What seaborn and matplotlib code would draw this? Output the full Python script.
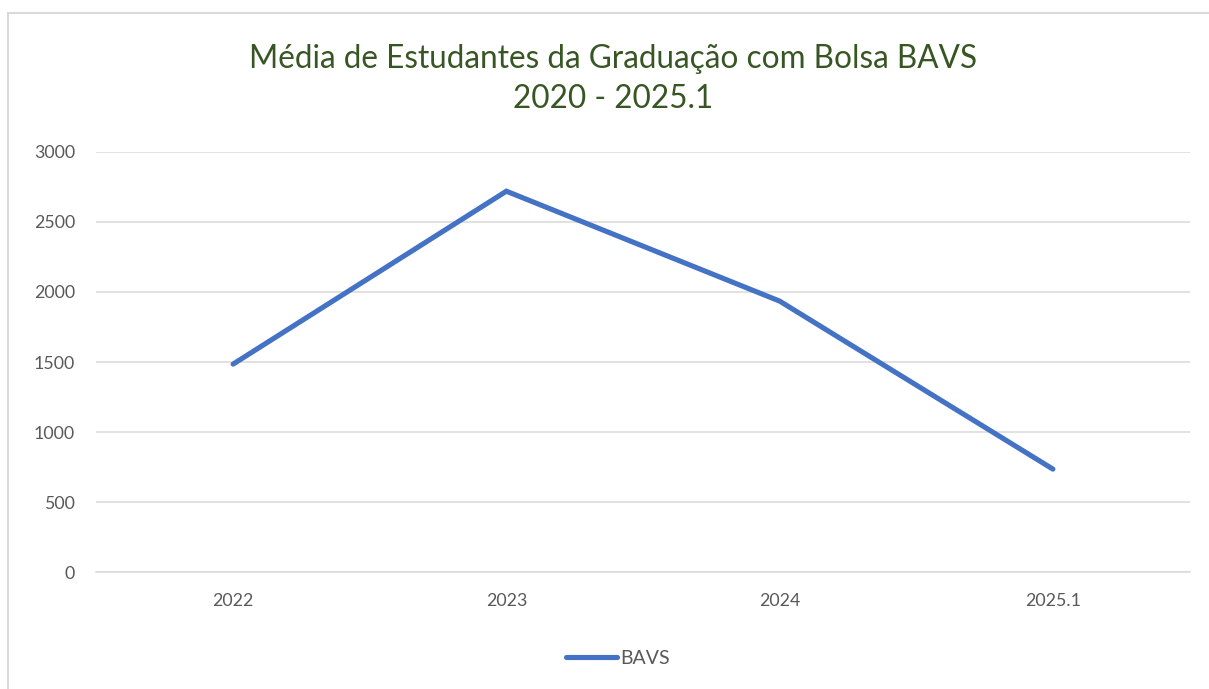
import numpy as np
import pandas as pd
import matplotlib
matplotlib.use("Agg")
import matplotlib.pyplot as plt
import seaborn as sns
from matplotlib.patches import Rectangle

# data
anos = ["2022", "2023", "2024", "2025.1"]
bavs = [1485, 2720, 1935, 735]

df = pd.DataFrame({"ano": anos, "BAVS": bavs})

sns.set_theme(style="white")
plt.rcParams['font.family'] = ['Lato', 'DejaVu Sans']

fig = plt.figure(figsize=(12.09, 6.89), dpi=100)
ax = fig.add_axes([0.0798, 0.1698, 0.9041, 0.6096])

sns.lineplot(data=df, x="ano", y="BAVS", ax=ax, color="#4472C4",
             linewidth=3.7, sort=False, label="BAVS",
             solid_capstyle="round", solid_joinstyle="miter")

ax.set_xlim(-0.5, 3.5)
ax.set_ylim(0, 3000)
ax.set_yticks(np.arange(0, 3001, 500))
ax.grid(axis="y", color="#D9D9D9", linewidth=1.1)
ax.set_axisbelow(True)
for s in ["top", "right", "left"]:
    ax.spines[s].set_visible(False)
ax.spines["bottom"].set_color("#D9D9D9")
ax.spines["bottom"].set_linewidth(1.1)
ax.tick_params(axis="both", length=0, labelsize=12.8, colors="#595959")
ax.tick_params(axis="y", pad=15.5)
ax.tick_params(axis="x", pad=15)
ax.set_xlabel("")
ax.set_ylabel("")

leg = ax.legend(loc="center", bbox_to_anchor=(0.477, -0.206), frameon=False,
                fontsize=14, handlelength=2.6, handletextpad=0.15)
for t in leg.get_texts():
    t.set_color("#595959")

fig.text(0.507, 0.885, "Média de Estudantes da Graduação com Bolsa BAVS\n2020 - 2025.1",
         ha="center", va="center", fontsize=22.7, color="#375623", linespacing=1.42)

# outer chart frame
fig.patches.append(Rectangle((8 / 1209, -0.01), 1.1, 1 - 13 / 689 + 0.01,
                             transform=fig.transFigure, fill=False,
                             edgecolor="#D9D9D9", linewidth=1.5))

fig.savefig("out.png", dpi=100)
